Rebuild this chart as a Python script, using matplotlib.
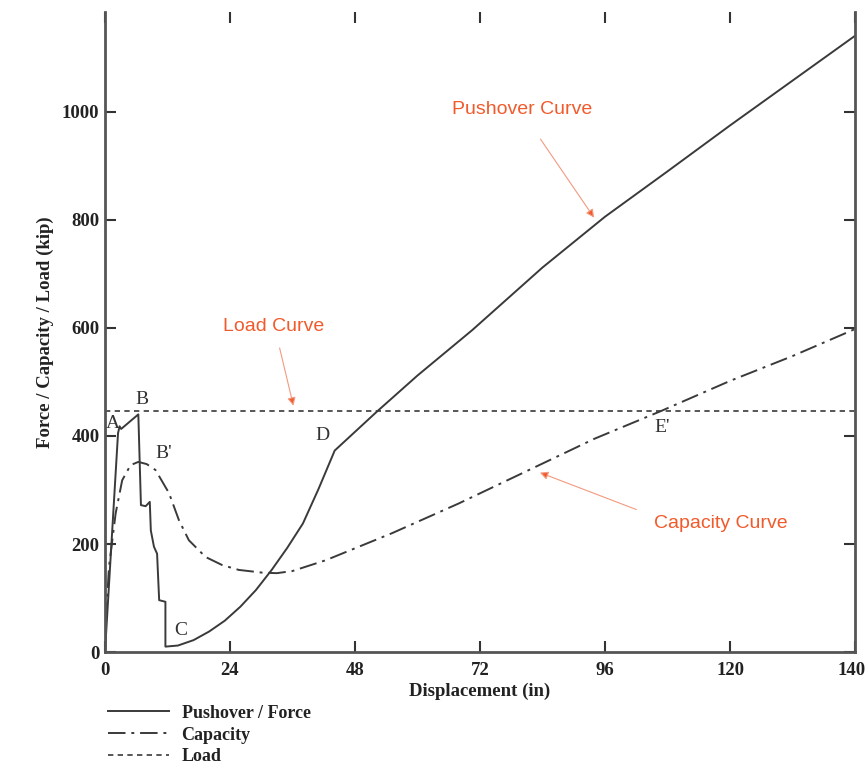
import matplotlib
matplotlib.use("Agg")
import matplotlib.pyplot as plt
from matplotlib.transforms import ScaledTranslation

# pushover / force curve (in, kip)
push_x = [0, 2.5, 2.8, 3.1, 6.4, 6.9, 7.8, 8.6, 8.8, 9.4, 10.0, 10.4, 11.6, 11.6,
          14, 17, 20, 23, 26, 29, 32, 35, 38, 41, 44.1,
          52.3, 60, 70.5, 84, 96, 108, 120, 132, 144]
push_y = [0, 405, 418, 413, 440, 272, 270, 278, 225, 195, 182, 96, 93, 10,
          12, 22, 38, 58, 84, 115, 152, 193, 238, 302, 373,
          446, 512, 596, 712, 806, 890, 975, 1058, 1141]

# capacity curve
cap_x = [0, 0.3, 0.77, 2.05, 3.3, 4.9, 6.4, 8.0, 9.7, 12.3, 14.2, 16.1, 19.3, 22.5,
         25.7, 30.2, 33, 36, 42.4, 55.1, 67.9, 82.7, 94, 106.7, 120, 132, 144]
cap_y = [0, 80, 158, 257, 318, 346, 352, 348, 337, 294, 244, 207, 176, 161,
         152, 147, 146, 150, 170, 220, 275, 343, 395, 446, 502, 548, 598]

# load
load_x = [0, 144]
load_y = [446, 446]

x_ticks = [0, 24, 48, 72, 96, 120, 144]
x_labels = ['0', '24', '48', '72', '96', '120', '140']
y_ticks = [0, 200, 400, 600, 800, 1000]

points = ['A', 'B', "B'", 'C', 'D', "E'"]
points_x = [1.5, 7.1, 11.3, 14.6, 41.8, 106.9]
points_y = [424, 467, 368, 39, 400, 415]

serif = 'Liberation Serif'
sans = 'Liberation Sans'
line_c = '#3a3a3a'
spine_c = '#555555'
red = '#f15a2b'
arrow_c = '#f39a80'

fig = plt.figure(figsize=(8.67, 7.66), dpi=100)
ax = fig.add_axes([0.1211, 0.1488, 0.8651, 0.8355])

ax.plot(push_x, push_y, color=line_c, lw=1.4, label='Pushover / Force')
ax.plot(cap_x, cap_y, color=line_c, lw=1.4, dashes=[9, 3, 1.5, 3], label='Capacity')
ax.plot(load_x, load_y, color=line_c, lw=1.2, dashes=[3.2, 2.6], label='Load')

ax.set_xlim(0, 144)
ax.set_ylim(0, 1185)
ax.set_xticks(x_ticks)
ax.set_xticklabels(x_labels)
ax.set_yticks(y_ticks)

for s in ['left', 'right', 'bottom']:
    ax.spines[s].set_color(spine_c)
    ax.spines[s].set_linewidth(2)
ax.spines['top'].set_visible(False)

ax.tick_params(direction='in', length=8, width=1.5, color='#333333',
               top=True, right=True)
ax.tick_params(axis='x', pad=7)
ax.tick_params(axis='y', pad=4)
for lab in ax.get_xticklabels() + ax.get_yticklabels():
    lab.set_fontfamily(serif)
    lab.set_fontweight('bold')
    lab.set_fontsize(13.5)
    lab.set_color('#222222')
# last label sits on the right edge, nudge it in a little
last = ax.get_xticklabels()[-1]
last.set_transform(last.get_transform() + ScaledTranslation(-3 / 100, 0, fig.dpi_scale_trans))

ax.set_xlabel('Displacement (in)', family=serif, weight='bold', fontsize=13.5,
              color='#222222', labelpad=3)
ax.set_ylabel('Force / Capacity / Load (kip)', family=serif, weight='bold',
              fontsize=13.5, color='#222222', labelpad=6)

for name, px, py in zip(points, points_x, points_y):
    ax.text(px, py, name, family=serif, fontsize=14, color='#333333',
            ha='center', va='center')

# annotations
ax.text(80.0, 1004, 'Pushover Curve', family=sans, fontsize=14, color=red,
        ha='center', va='center')
ax.annotate('', xy=(94.2, 800), xytext=(83.3, 954),
            arrowprops=dict(arrowstyle='-|>', color=arrow_c, lw=0.8,
                            mutation_scale=12, fc=red, ec=arrow_c))
ax.text(32.4, 602, 'Load Curve', family=sans, fontsize=14, color=red,
        ha='center', va='center')
ax.annotate('', xy=(36.3, 451), xytext=(33.4, 568),
            arrowprops=dict(arrowstyle='-|>', color=arrow_c, lw=0.8,
                            mutation_scale=12, fc=red, ec=arrow_c))
ax.text(118.2, 238, 'Capacity Curve', family=sans, fontsize=14, color=red,
        ha='center', va='center')
ax.annotate('', xy=(83.0, 334), xytext=(102.5, 262),
            arrowprops=dict(arrowstyle='-|>', color=arrow_c, lw=0.8,
                            mutation_scale=12, fc=red, ec=arrow_c))

leg = fig.legend(loc='upper left', bbox_to_anchor=(0.124, 0.080), frameon=False,
                 handlelength=3.4, handletextpad=0.7, labelspacing=0.27,
                 borderaxespad=0, borderpad=0,
                 prop={'family': serif, 'weight': 'bold', 'size': 13})
for t in leg.get_texts():
    t.set_color('#222222')

fig.savefig('out.png', dpi=100)
